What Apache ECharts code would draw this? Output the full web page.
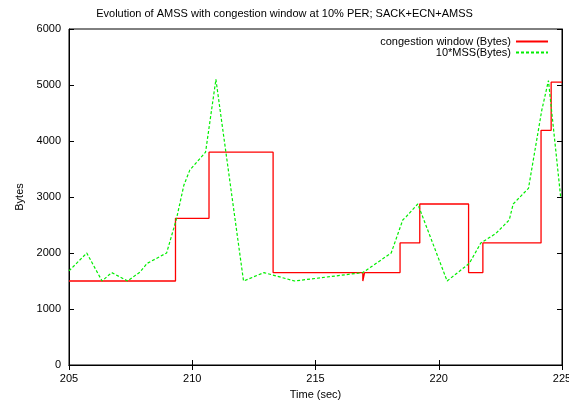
<!DOCTYPE html>
<html>
<head>
<meta charset="utf-8">
<script src="https://cdn.jsdelivr.net/npm/echarts@6/dist/echarts.min.js"></script>
<style>html,body{margin:0;padding:0;background:#fff}#c{width:569px;height:402px}</style>
</head>
<body>
<div id="c"></div>
<script>
const titleText = 'Evolution of AMSS with congestion window at 10% PER; SACK+ECN+AMSS';
const seriesNames = ['congestion window (Bytes)', '10*MSS(Bytes)'];
const cwndTime  = [205, 209.32, 210.68, 213.28, 216.92, 216.99, 218.43, 219.23, 221.21, 221.79, 224.15, 224.56, 225];
const cwndBytes = [1500, 2620, 3800, 1650, 1500, 1650, 2180, 2875, 1650, 2180, 4190, 5050, 5050];
const mssTime  = [205, 205.72, 206.34, 206.73, 207.38, 207.88, 208.17, 208.96, 209.36, 209.66, 209.90, 210.54, 210.96, 212.08, 212.91, 214.15, 216.92, 218.07, 218.54, 218.68, 219.15, 220.34, 221.24, 221.71, 222.32, 222.86, 223.02, 223.64, 224.18, 224.45, 224.95];
const mssBytes = [1680, 2000, 1500, 1650, 1500, 1660, 1815, 2000, 2610, 3210, 3480, 3800, 5100, 1500, 1650, 1500, 1650, 2000, 2590, 2650, 2875, 1500, 1815, 2180, 2350, 2590, 2875, 3155, 4550, 5080, 2980];

const font = 'Liberation Sans, Arial, sans-serif';
const chart = echarts.init(document.getElementById('c'), null, {renderer: 'canvas'});
const axisCommon = {
  axisLine: {show: true, lineStyle: {color: '#000', width: 1}},
  axisTick: {show: true, inside: true, length: 5, lineStyle: {color: '#000'}},
  splitLine: {show: false}
};
const legendCommon = {align: 'right', itemWidth: 32, itemHeight: 10, itemGap: 8,
  itemStyle: {opacity: 0},
  textStyle: {fontFamily: font, fontSize: 11, color: '#000'}};
chart.setOption({
  animation: false,
  backgroundColor: '#fff',
  title: {text: titleText, left: 'center', top: 3, textStyle: {fontFamily: font, fontSize: 11, fontWeight: 'normal', color: '#000'}},
  grid: {left: 69, right: 7, top: 29, bottom: 37, show: true, borderColor: '#000', borderWidth: 1,
         containLabel: false, outerBoundsMode: 'none'},
  legend: [
    Object.assign({data: [seriesNames[0]], right: 15, top: 31}, legendCommon),
    Object.assign({data: [seriesNames[1]], right: 15, top: 42}, legendCommon)
  ],
  xAxis: [
    Object.assign({type: 'value', min: 205, max: 225, interval: 5, name: 'Time (sec)', nameLocation: 'middle', nameGap: 24,
      nameTextStyle: {fontFamily: font, fontSize: 11, color: '#000'},
      axisLabel: {fontFamily: font, fontSize: 11, color: '#000', margin: 8}}, axisCommon),
    Object.assign({type: 'value', position: 'top', min: 205, max: 225, interval: 5, axisLabel: {show: false}}, axisCommon)
  ],
  yAxis: [
    Object.assign({type: 'value', min: 0, max: 6000, interval: 1000, name: 'Bytes', nameLocation: 'middle', nameGap: 44,
      nameTextStyle: {fontFamily: font, fontSize: 11, color: '#000'},
      axisLabel: {fontFamily: font, fontSize: 11, color: '#000', margin: 8, formatter: v => String(v)}}, axisCommon),
    Object.assign({type: 'value', position: 'right', min: 0, max: 6000, interval: 1000, axisLabel: {show: false}}, axisCommon)
  ],
  series: [
    {name: seriesNames[0], type: 'line', step: 'end', symbol: 'none', showSymbol: false,
     data: cwndTime.map((t, i) => [t, cwndBytes[i]]),
     lineStyle: {color: '#ff0000', width: 1.3}, itemStyle: {color: '#ff0000'}, z: 3},
    {name: seriesNames[1], type: 'line', symbol: 'none', showSymbol: false,
     data: mssTime.map((t, i) => [t, mssBytes[i]]),
     lineStyle: {color: '#00ee00', width: 1.2, type: [3, 2]}, itemStyle: {color: '#00ee00'}, z: 4}
  ]
});
</script>
</body>
</html>
